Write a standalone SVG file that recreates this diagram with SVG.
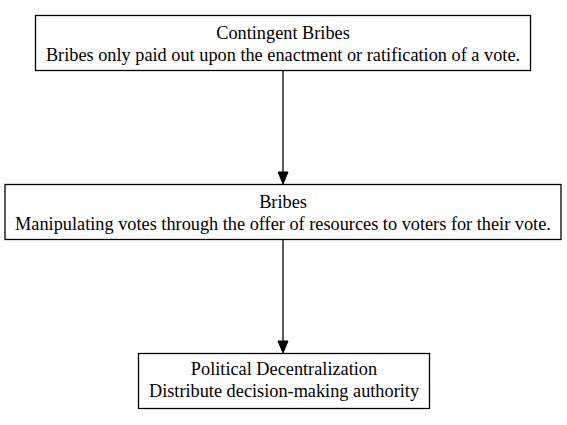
<svg xmlns="http://www.w3.org/2000/svg" width="567" height="425" viewBox="0 0 567 425">
<style>
.node rect{fill:#fff;stroke:#000;stroke-width:1.3}
.node text{font-family:"Liberation Serif","Times New Roman",serif;font-size:18.3px;text-anchor:middle;fill:#000}
.edge line{stroke:#000;stroke-width:1.3}
.edge polygon{fill:#000;stroke:#000}
</style>
<rect width="567" height="425" fill="#fff"/>
<g id="connectors" class="edge">
<line x1="283" y1="71" x2="283" y2="172"/>
<polygon points="278,172 288,172 283,184"/>
<line x1="283" y1="240" x2="283" y2="341"/>
<polygon points="278,341 288,341 283,353"/>
</g>
<g id="contingent-bribes" class="node">
<rect x="35.5" y="15.5" width="495" height="55"/>
<text x="283" y="39">Contingent Bribes</text>
<text x="283" y="61">Bribes only paid out upon the enactment or ratification of a vote.</text>
</g>
<g id="bribes" class="node">
<rect x="5" y="184.5" width="556" height="55"/>
<text x="283" y="208">Bribes</text>
<text x="283" y="230">Manipulating votes through the offer of resources to voters for their vote.</text>
</g>
<g id="political-decentralization" class="node">
<rect x="138.5" y="353.5" width="291" height="55"/>
<text x="284" y="375">Political Decentralization</text>
<text x="284" y="397">Distribute decision-making authority</text>
</g>
</svg>
